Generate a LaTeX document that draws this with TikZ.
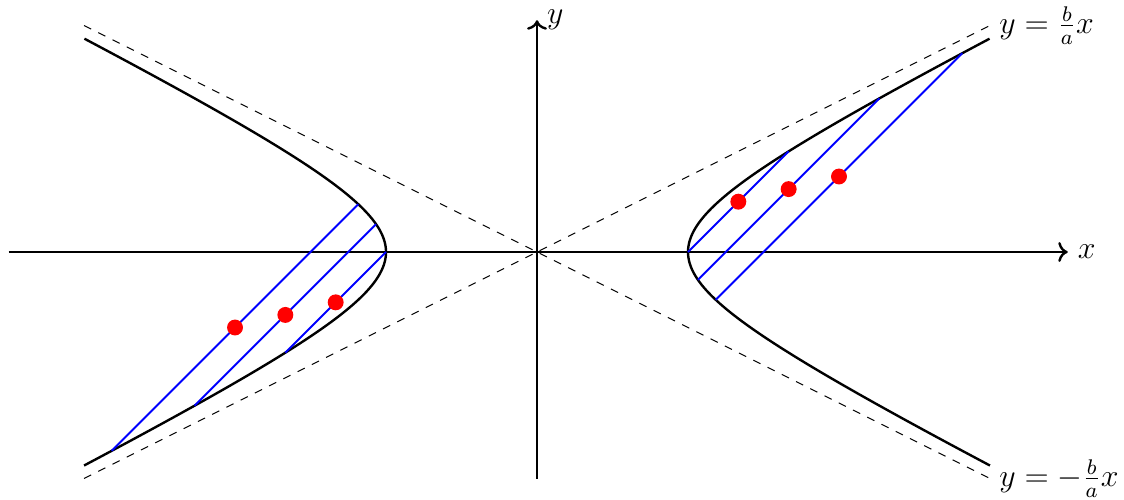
\documentclass[tikz,border=0pt]{standalone}
\usetikzlibrary{arrows.meta}
\begin{document}
\begin{tikzpicture}[x=1cm,y=1cm,
  axis/.style={line width=0.9pt,->},
  curve/.style={line width=0.9pt,black},
  asym/.style={thin,dashed},
  chord/.style={line width=0.75pt,blue},
  middot/.style={circle,fill=red,inner sep=0pt,minimum size=6pt},
  lbl/.style={font=\large}]
\useasboundingbox (-7.113,-3.272) rectangle (7.775,3.338);
% asymptotes
\coordinate (A1) at (-6,-3);
\coordinate (A2) at (6,3);
\coordinate (B1) at (-6,3);
\coordinate (B2) at (6,-3);
\draw[asym] (A1) -- (A2) node[right,lbl] (la) {$y=\frac{b}{a}x$};
\draw[asym] (B1) -- (B2) node[right,lbl] (lb) {$y=-\frac{b}{a}x$};
% axes
\coordinate (xs) at (-7,0);
\coordinate (xe) at (7.03,0);
\coordinate (ys) at (0,-3);
\coordinate (ye) at (0,3.07);
\draw[axis] (xs) -- (xe) node[right,lbl] (xl) {$x$};
\draw[axis] (ys) -- (ye) node[right,lbl] (yl) {$y$};
% hyperbola
\draw[curve] plot[domain=-1.7627:1.7627,samples=120,smooth] ({2*cosh(\x)},{sinh(\x)});
\draw[curve] plot[domain=-1.7627:1.7627,samples=120,smooth] ({-2*cosh(\x)},{sinh(\x)});
% right chords
\coordinate (R1a) at (2,0);          \coordinate (R1b) at (3.33333,1.33333);
\coordinate (R2a) at (2.13148,-0.36852); \coordinate (R2b) at (4.53518,2.03518);
\coordinate (R3a) at (2.36701,-0.63299); \coordinate (R3b) at (5.63299,2.63299);
\draw[chord] (R1a) -- (R1b);
\draw[chord] (R2a) -- (R2b);
\draw[chord] (R3a) -- (R3b);
% left chords
\coordinate (L1a) at (-2,0);          \coordinate (L1b) at (-3.33333,-1.33333);
\coordinate (L2a) at (-2.13148,0.36852); \coordinate (L2b) at (-4.53518,-2.03518);
\coordinate (L3a) at (-2.36701,0.63299); \coordinate (L3b) at (-5.63299,-2.63299);
\draw[chord] (L1a) -- (L1b);
\draw[chord] (L2a) -- (L2b);
\draw[chord] (L3a) -- (L3b);
% midpoints
\node[middot] (m1) at (2.66667,0.66667) {};
\node[middot] (m2) at (3.33333,0.83333) {};
\node[middot] (m3) at (4,1) {};
\node[middot] (n1) at (-2.66667,-0.66667) {};
\node[middot] (n2) at (-3.33333,-0.83333) {};
\node[middot] (n3) at (-4,-1) {};
\end{tikzpicture}
\end{document}
